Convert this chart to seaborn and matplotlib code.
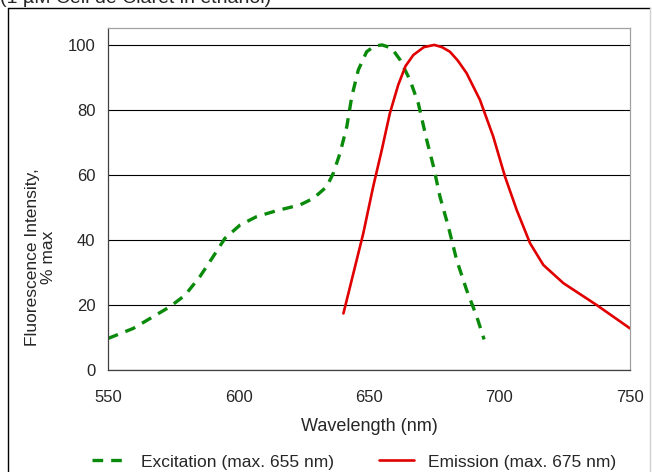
import numpy as np
import pandas as pd
import matplotlib
matplotlib.use('Agg')
import matplotlib.pyplot as plt
import seaborn as sns
from matplotlib.lines import Line2D


# Spectra (wavelength in nm, % of max)
EXC_NM = [550, 559.7, 573.8, 579.5, 585.2, 590.3, 594.8, 600.6, 607, 614.6, 623.6, 628.7,
          633.8, 636.3, 638.9, 641.5, 643.4, 645.9, 649.1, 652, 655, 658.7, 661.9, 665.7,
          668.9, 672.1, 674.7, 677.2, 680.4, 683.6, 687.4, 691.3, 694.1]
EXC_PCT = [9.7, 12.8, 19.5, 23, 28.7, 34.9, 40.5, 44.6, 47.2, 49, 50.8, 52.8,
           56.4, 60.5, 66.7, 74.9, 84.1, 92.3, 97.9, 99.6, 100, 99, 95.4, 89.2,
           82, 70.8, 62.6, 53.3, 44.1, 33.8, 24.6, 16.4, 9.4]

EMI_NM = [640.2, 644, 647.8, 651.6, 654.9, 658, 661.2, 664, 667, 671, 675, 678, 681,
          684, 687.4, 692.5, 697.6, 702.1, 706.6, 711.7, 716.8, 724.5, 737.2, 750]
EMI_PCT = [17.4, 29.7, 42, 56.4, 67.7, 79, 87.7, 93.5, 96.9, 99.3, 100, 99.3, 97.9,
           95.2, 91.3, 83.1, 71.8, 59.5, 49.2, 39, 32.3, 26.7, 20, 12.8]

X_TICKS = [550, 600, 650, 700, 750]
Y_TICKS = [0, 20, 40, 60, 80, 100]

EXC_LABEL = 'Excitation (max. 655 nm)'
EMI_LABEL = 'Emission (max. 675 nm)'
TITLE = '(1 \u00b5M Cell de Claret in ethanol)'

exc = pd.DataFrame({'nm': EXC_NM, 'pct': EXC_PCT})
emi = pd.DataFrame({'nm': EMI_NM, 'pct': EMI_PCT})

sns.set_style('white')
plt.rcParams['font.family'] = ['Liberation Sans', 'DejaVu Sans']

W, H = 652, 472
fig = plt.figure(figsize=(W / 100, H / 100), dpi=100)
# plot area: x 108..630, y 28..370 (pixels)
ax = fig.add_axes([108 / W, 1 - 370 / H, 522 / W, 342 / H])

sns.lineplot(data=exc, x='nm', y='pct', ax=ax, color='#0a8a0a', lw=2.4,
             linestyle=(0, (3.2, 2.4)), sort=False, estimator=None, label=EXC_LABEL)
sns.lineplot(data=emi, x='nm', y='pct', ax=ax, color='#e00000', lw=1.9,
             sort=False, estimator=None, label=EMI_LABEL)

ax.set_xlim(550, 750)
ax.set_ylim(0, 105.2)
ax.set_xticks(X_TICKS)
ax.set_yticks(Y_TICKS)
ax.yaxis.grid(True, color='black', lw=0.8)
ax.set_axisbelow(True)

for side in ['top', 'right']:
    ax.spines[side].set_color('#a0a0a0')
    ax.spines[side].set_linewidth(0.9)
for side in ['left', 'bottom']:
    ax.spines[side].set_color('#404040')
    ax.spines[side].set_linewidth(0.9)

ax.tick_params(axis='x', direction='inout', length=7, width=0.8, color='#404040',
               labelsize=12, pad=11)
ax.tick_params(axis='y', direction='out', length=4, width=0.8, color='#404040',
               labelsize=12, pad=5)

ax.set_xlabel('Wavelength (nm)', fontsize=13, labelpad=9)
ax.set_ylabel('Fluorescence Intensity,\n% max', fontsize=12.5, linespacing=1.05)
ax.yaxis.set_label_coords(-0.1, 0.33)

ax.legend(loc='center', bbox_to_anchor=(0.543, 1 - 462 / H), bbox_transform=fig.transFigure,
          ncol=2, frameon=False, fontsize=12.5, handlelength=2.0, columnspacing=2.6,
          handletextpad=0.8)

# outer chart frame and the clipped title above it
fig.add_artist(Line2D([8 / W, 8 / W], [0, 1 - 8 / H], color='black', lw=1.0,
                      transform=fig.transFigure))
fig.add_artist(Line2D([8 / W, 650 / W], [1 - 8 / H, 1 - 8 / H], color='black', lw=1.0,
                      transform=fig.transFigure))
fig.add_artist(Line2D([650 / W, 650 / W], [0, 1 - 8 / H], color='#d0d0d0', lw=1.0,
                      transform=fig.transFigure))
fig.text(0.0, 1 - 3 / H, TITLE, fontsize=14, va='baseline', ha='left')

fig.savefig('out.png', dpi=100)
